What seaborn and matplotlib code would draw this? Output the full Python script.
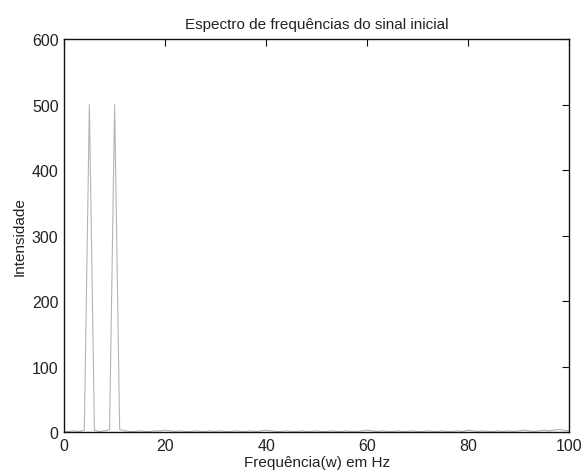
import matplotlib
matplotlib.use("Agg")
import matplotlib.pyplot as plt
import seaborn as sns
import pandas as pd

# Frequency axis in Hz (1 Hz resolution) and the magnitude of the spectrum
freq_hz = list(range(0, 101))
intensity = [
    1, 1, 2, 1, 3, 500, 3, 1, 2, 4, 500, 4, 2, 1, 1, 2, 1, 1, 2, 2,
    3, 2, 1, 2, 1, 1, 2, 1, 1, 2, 1, 2, 1, 1, 2, 1, 1, 2, 1, 2,
    3, 2, 1, 1, 2, 1, 1, 2, 1, 1, 2, 1, 1, 2, 1, 1, 2, 1, 1, 2,
    3, 2, 1, 2, 1, 1, 2, 1, 1, 2, 1, 1, 2, 1, 1, 2, 1, 1, 2, 1,
    3, 2, 1, 2, 1, 1, 2, 1, 2, 1, 2, 3, 2, 1, 2, 3, 2, 3, 4, 3,
    2,
]

title = "Espectro de frequências do sinal inicial"
xlabel = "Frequência(w) em Hz"
ylabel = "Intensidade"
xticks = [0, 20, 40, 60, 80, 100]
yticks = [0, 100, 200, 300, 400, 500, 600]

df = pd.DataFrame({"freq": freq_hz, "intensity": intensity})

sns.set_theme(style="white")
plt.rcParams["font.family"] = ["Liberation Sans", "DejaVu Sans"]

fig = plt.figure(figsize=(5.83, 4.77), dpi=100)
ax = fig.add_axes([0.110, 0.092, 0.866, 0.824])

sns.lineplot(data=df, x="freq", y="intensity", ax=ax,
             color="#b4b4b4", linewidth=0.8)

ax.set_xlim(0, 100)
ax.set_ylim(0, 600)
ax.set_xticks(xticks)
ax.set_yticks(yticks)
ax.set_xticklabels([str(t) for t in xticks])
ax.set_yticklabels([str(t) for t in yticks])

ax.set_title(title, fontsize=11, color="#222222", pad=8)
ax.set_xlabel(xlabel, fontsize=11, color="#222222", labelpad=2)
ax.set_ylabel(ylabel, fontsize=11, color="#222222", labelpad=4)

ax.tick_params(axis="both", direction="in", length=5, width=0.8,
               top=True, right=True, labelsize=11.5, colors="#111111",
               labelcolor="#222222", pad=4)
for side in ["left", "right", "top", "bottom"]:
    ax.spines[side].set_visible(True)
    ax.spines[side].set_color("#111111")
    ax.spines[side].set_linewidth(1.0)

ax.grid(False)
fig.patch.set_facecolor("white")
ax.set_facecolor("white")

fig.savefig("out.png", dpi=100, facecolor="white")
